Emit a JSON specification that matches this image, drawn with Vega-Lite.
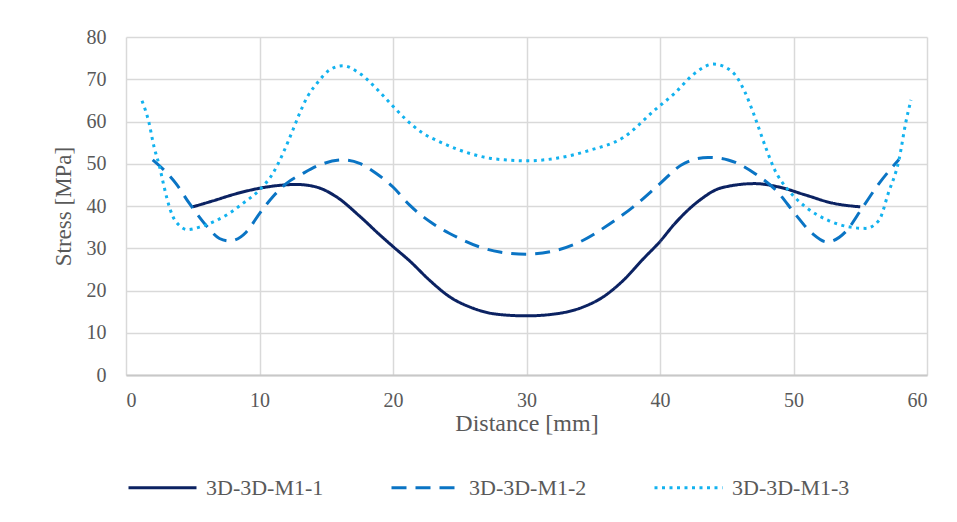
{
  "$schema": "https://vega.github.io/schema/vega-lite/v6.json",
  "width": 801,
  "height": 338,
  "autosize": {"type": "none"},
  "padding": {"left": 126, "top": 37, "right": 30, "bottom": 147},
  "background": "white",
  "config": {"view": {"stroke": null}, "font": "Liberation Serif"},
  "data": {
    "values": [
      {"distance": 5.0, "stress": 39.8, "series": "3D-3D-M1-1"},
      {"distance": 6.5, "stress": 41.2, "series": "3D-3D-M1-1"},
      {"distance": 8.25, "stress": 42.9, "series": "3D-3D-M1-1"},
      {"distance": 10.0, "stress": 44.2, "series": "3D-3D-M1-1"},
      {"distance": 11.25, "stress": 44.8, "series": "3D-3D-M1-1"},
      {"distance": 12.75, "stress": 45.1, "series": "3D-3D-M1-1"},
      {"distance": 14.25, "stress": 44.5, "series": "3D-3D-M1-1"},
      {"distance": 15.75, "stress": 42.2, "series": "3D-3D-M1-1"},
      {"distance": 17.5, "stress": 37.6, "series": "3D-3D-M1-1"},
      {"distance": 19.0, "stress": 33.2, "series": "3D-3D-M1-1"},
      {"distance": 20.0, "stress": 30.4, "series": "3D-3D-M1-1"},
      {"distance": 21.25, "stress": 27.0, "series": "3D-3D-M1-1"},
      {"distance": 22.75, "stress": 22.4, "series": "3D-3D-M1-1"},
      {"distance": 24.25, "stress": 18.5, "series": "3D-3D-M1-1"},
      {"distance": 26.0, "stress": 15.8, "series": "3D-3D-M1-1"},
      {"distance": 27.75, "stress": 14.4, "series": "3D-3D-M1-1"},
      {"distance": 30.0, "stress": 14.0, "series": "3D-3D-M1-1"},
      {"distance": 32.25, "stress": 14.5, "series": "3D-3D-M1-1"},
      {"distance": 34.25, "stress": 16.1, "series": "3D-3D-M1-1"},
      {"distance": 35.75, "stress": 18.5, "series": "3D-3D-M1-1"},
      {"distance": 37.25, "stress": 22.4, "series": "3D-3D-M1-1"},
      {"distance": 38.75, "stress": 27.5, "series": "3D-3D-M1-1"},
      {"distance": 40.0, "stress": 31.6, "series": "3D-3D-M1-1"},
      {"distance": 41.1, "stress": 35.8, "series": "3D-3D-M1-1"},
      {"distance": 42.9, "stress": 41.2, "series": "3D-3D-M1-1"},
      {"distance": 44.6, "stress": 44.3, "series": "3D-3D-M1-1"},
      {"distance": 47.1, "stress": 45.3, "series": "3D-3D-M1-1"},
      {"distance": 48.9, "stress": 44.5, "series": "3D-3D-M1-1"},
      {"distance": 50.9, "stress": 42.6, "series": "3D-3D-M1-1"},
      {"distance": 52.9, "stress": 40.7, "series": "3D-3D-M1-1"},
      {"distance": 55.0, "stress": 39.8, "series": "3D-3D-M1-1"},

      {"distance": 2.0, "stress": 50.9, "series": "3D-3D-M1-2"},
      {"distance": 3.75, "stress": 45.3, "series": "3D-3D-M1-2"},
      {"distance": 4.75, "stress": 40.6, "series": "3D-3D-M1-2"},
      {"distance": 6.0, "stress": 35.4, "series": "3D-3D-M1-2"},
      {"distance": 7.0, "stress": 32.3, "series": "3D-3D-M1-2"},
      {"distance": 7.75, "stress": 31.7, "series": "3D-3D-M1-2"},
      {"distance": 9.0, "stress": 33.8, "series": "3D-3D-M1-2"},
      {"distance": 10.0, "stress": 38.2, "series": "3D-3D-M1-2"},
      {"distance": 11.0, "stress": 42.2, "series": "3D-3D-M1-2"},
      {"distance": 12.0, "stress": 45.3, "series": "3D-3D-M1-2"},
      {"distance": 13.25, "stress": 47.7, "series": "3D-3D-M1-2"},
      {"distance": 14.5, "stress": 49.7, "series": "3D-3D-M1-2"},
      {"distance": 16.25, "stress": 50.9, "series": "3D-3D-M1-2"},
      {"distance": 17.5, "stress": 50.1, "series": "3D-3D-M1-2"},
      {"distance": 18.75, "stress": 47.7, "series": "3D-3D-M1-2"},
      {"distance": 20.0, "stress": 44.5, "series": "3D-3D-M1-2"},
      {"distance": 21.25, "stress": 40.2, "series": "3D-3D-M1-2"},
      {"distance": 23.0, "stress": 35.8, "series": "3D-3D-M1-2"},
      {"distance": 24.75, "stress": 32.7, "series": "3D-3D-M1-2"},
      {"distance": 26.5, "stress": 30.3, "series": "3D-3D-M1-2"},
      {"distance": 28.0, "stress": 29.1, "series": "3D-3D-M1-2"},
      {"distance": 30.0, "stress": 28.6, "series": "3D-3D-M1-2"},
      {"distance": 32.25, "stress": 29.5, "series": "3D-3D-M1-2"},
      {"distance": 34.25, "stress": 31.9, "series": "3D-3D-M1-2"},
      {"distance": 36.25, "stress": 35.8, "series": "3D-3D-M1-2"},
      {"distance": 38.0, "stress": 39.8, "series": "3D-3D-M1-2"},
      {"distance": 40.0, "stress": 45.3, "series": "3D-3D-M1-2"},
      {"distance": 41.6, "stress": 49.7, "series": "3D-3D-M1-2"},
      {"distance": 43.6, "stress": 51.5, "series": "3D-3D-M1-2"},
      {"distance": 45.1, "stress": 50.9, "series": "3D-3D-M1-2"},
      {"distance": 47.1, "stress": 47.7, "series": "3D-3D-M1-2"},
      {"distance": 48.9, "stress": 43.0, "series": "3D-3D-M1-2"},
      {"distance": 50.1, "stress": 38.2, "series": "3D-3D-M1-2"},
      {"distance": 51.4, "stress": 33.5, "series": "3D-3D-M1-2"},
      {"distance": 52.5, "stress": 31.5, "series": "3D-3D-M1-2"},
      {"distance": 53.9, "stress": 33.9, "series": "3D-3D-M1-2"},
      {"distance": 55.1, "stress": 39.3, "series": "3D-3D-M1-2"},
      {"distance": 56.4, "stress": 45.3, "series": "3D-3D-M1-2"},
      {"distance": 57.9, "stress": 51.0, "series": "3D-3D-M1-2"},

      {"distance": 1.2, "stress": 64.9, "series": "3D-3D-M1-3"},
      {"distance": 1.7, "stress": 60.0, "series": "3D-3D-M1-3"},
      {"distance": 2.1, "stress": 54.0, "series": "3D-3D-M1-3"},
      {"distance": 2.5, "stress": 49.5, "series": "3D-3D-M1-3"},
      {"distance": 2.8, "stress": 45.3, "series": "3D-3D-M1-3"},
      {"distance": 3.1, "stress": 41.4, "series": "3D-3D-M1-3"},
      {"distance": 3.5, "stress": 37.6, "series": "3D-3D-M1-3"},
      {"distance": 4.0, "stress": 35.4, "series": "3D-3D-M1-3"},
      {"distance": 4.6, "stress": 34.4, "series": "3D-3D-M1-3"},
      {"distance": 5.5, "stress": 35.0, "series": "3D-3D-M1-3"},
      {"distance": 6.5, "stress": 36.2, "series": "3D-3D-M1-3"},
      {"distance": 7.5, "stress": 37.8, "series": "3D-3D-M1-3"},
      {"distance": 8.75, "stress": 40.6, "series": "3D-3D-M1-3"},
      {"distance": 10.0, "stress": 43.8, "series": "3D-3D-M1-3"},
      {"distance": 11.0, "stress": 47.7, "series": "3D-3D-M1-3"},
      {"distance": 11.75, "stress": 52.4, "series": "3D-3D-M1-3"},
      {"distance": 12.5, "stress": 58.0, "series": "3D-3D-M1-3"},
      {"distance": 13.0, "stress": 61.9, "series": "3D-3D-M1-3"},
      {"distance": 13.6, "stress": 65.9, "series": "3D-3D-M1-3"},
      {"distance": 14.4, "stress": 69.4, "series": "3D-3D-M1-3"},
      {"distance": 15.25, "stress": 72.2, "series": "3D-3D-M1-3"},
      {"distance": 16.25, "stress": 73.2, "series": "3D-3D-M1-3"},
      {"distance": 17.5, "stress": 71.4, "series": "3D-3D-M1-3"},
      {"distance": 19.0, "stress": 67.0, "series": "3D-3D-M1-3"},
      {"distance": 20.0, "stress": 63.6, "series": "3D-3D-M1-3"},
      {"distance": 21.0, "stress": 60.4, "series": "3D-3D-M1-3"},
      {"distance": 22.25, "stress": 57.2, "series": "3D-3D-M1-3"},
      {"distance": 23.5, "stress": 55.2, "series": "3D-3D-M1-3"},
      {"distance": 24.75, "stress": 53.5, "series": "3D-3D-M1-3"},
      {"distance": 26.0, "stress": 52.2, "series": "3D-3D-M1-3"},
      {"distance": 27.25, "stress": 51.3, "series": "3D-3D-M1-3"},
      {"distance": 28.5, "stress": 50.9, "series": "3D-3D-M1-3"},
      {"distance": 30.0, "stress": 50.7, "series": "3D-3D-M1-3"},
      {"distance": 32.25, "stress": 51.3, "series": "3D-3D-M1-3"},
      {"distance": 34.75, "stress": 53.2, "series": "3D-3D-M1-3"},
      {"distance": 37.25, "stress": 56.2, "series": "3D-3D-M1-3"},
      {"distance": 39.6, "stress": 62.7, "series": "3D-3D-M1-3"},
      {"distance": 41.1, "stress": 66.7, "series": "3D-3D-M1-3"},
      {"distance": 42.6, "stress": 71.4, "series": "3D-3D-M1-3"},
      {"distance": 44.0, "stress": 73.6, "series": "3D-3D-M1-3"},
      {"distance": 45.4, "stress": 71.8, "series": "3D-3D-M1-3"},
      {"distance": 46.4, "stress": 66.7, "series": "3D-3D-M1-3"},
      {"distance": 47.1, "stress": 61.1, "series": "3D-3D-M1-3"},
      {"distance": 47.9, "stress": 54.0, "series": "3D-3D-M1-3"},
      {"distance": 48.6, "stress": 48.5, "series": "3D-3D-M1-3"},
      {"distance": 49.6, "stress": 43.8, "series": "3D-3D-M1-3"},
      {"distance": 50.9, "stress": 39.8, "series": "3D-3D-M1-3"},
      {"distance": 52.6, "stress": 36.6, "series": "3D-3D-M1-3"},
      {"distance": 54.1, "stress": 35.1, "series": "3D-3D-M1-3"},
      {"distance": 55.4, "stress": 34.7, "series": "3D-3D-M1-3"},
      {"distance": 56.4, "stress": 36.6, "series": "3D-3D-M1-3"},
      {"distance": 57.1, "stress": 43.0, "series": "3D-3D-M1-3"},
      {"distance": 57.9, "stress": 50.9, "series": "3D-3D-M1-3"},
      {"distance": 58.4, "stress": 59.6, "series": "3D-3D-M1-3"},
      {"distance": 58.8, "stress": 65.1, "series": "3D-3D-M1-3"}
    ]
  },
  "mark": {"type": "line", "interpolate": "monotone", "strokeWidth": 3, "strokeCap": "butt"},
  "encoding": {
    "x": {
      "field": "distance",
      "type": "quantitative",
      "scale": {"domain": [0, 60], "nice": false, "zero": false},
      "axis": {
        "values": [0, 10, 20, 30, 40, 50, 60],
        "title": "Distance [mm]",
        "grid": true,
        "gridColor": "#d9d9d9",
        "gridWidth": 1.5,
        "domainColor": "#c8c8c8",
        "domainWidth": 2,
        "ticks": false,
        "labelFont": "Liberation Serif",
        "labelFontSize": 20,
        "labelColor": "#595959",
        "labelPadding": 15,
        "titleFont": "Liberation Serif",
        "titleFontSize": 24,
        "titleFontWeight": "normal",
        "titleColor": "#595959",
        "titlePadding": 1
      }
    },
    "y": {
      "field": "stress",
      "type": "quantitative",
      "scale": {"domain": [0, 80], "nice": false},
      "axis": {
        "values": [0, 10, 20, 30, 40, 50, 60, 70, 80],
        "title": "Stress [MPa]",
        "grid": true,
        "gridColor": "#d9d9d9",
        "gridWidth": 1.5,
        "domain": false,
        "ticks": false,
        "labelFont": "Liberation Serif",
        "labelFontSize": 20,
        "labelColor": "#595959",
        "labelPadding": 20,
        "titleFont": "Liberation Serif",
        "titleFontSize": 23,
        "titleFontWeight": "normal",
        "titleColor": "#595959",
        "titlePadding": 11
      }
    },
    "color": {
      "field": "series",
      "type": "nominal",
      "scale": {"domain": ["3D-3D-M1-1", "3D-3D-M1-2", "3D-3D-M1-3"], "range": ["#0b2262", "#0a74c4", "#12b2ef"]},
      "legend": {
        "orient": "none",
        "legendX": 1,
        "legendY": 415,
        "direction": "horizontal",
        "title": null,
        "symbolType": "stroke",
        "symbolSize": 4624,
        "symbolStrokeWidth": 3,
        "labelFont": "Liberation Serif",
        "labelFontSize": 22,
        "labelColor": "#595959",
        "labelOffset": 8,
        "columnPadding": 61
      }
    },
    "strokeDash": {
      "field": "series",
      "type": "nominal",
      "scale": {"domain": ["3D-3D-M1-1", "3D-3D-M1-2", "3D-3D-M1-3"], "range": [[1, 0], [15, 9], [3, 4.5]]},
      "legend": {
        "orient": "none",
        "legendX": 1,
        "legendY": 415,
        "direction": "horizontal",
        "title": null,
        "symbolType": "stroke",
        "symbolSize": 4624,
        "symbolStrokeWidth": 3,
        "labelFont": "Liberation Serif",
        "labelFontSize": 22,
        "labelColor": "#595959",
        "labelOffset": 8,
        "columnPadding": 61
      }
    }
  }
}
